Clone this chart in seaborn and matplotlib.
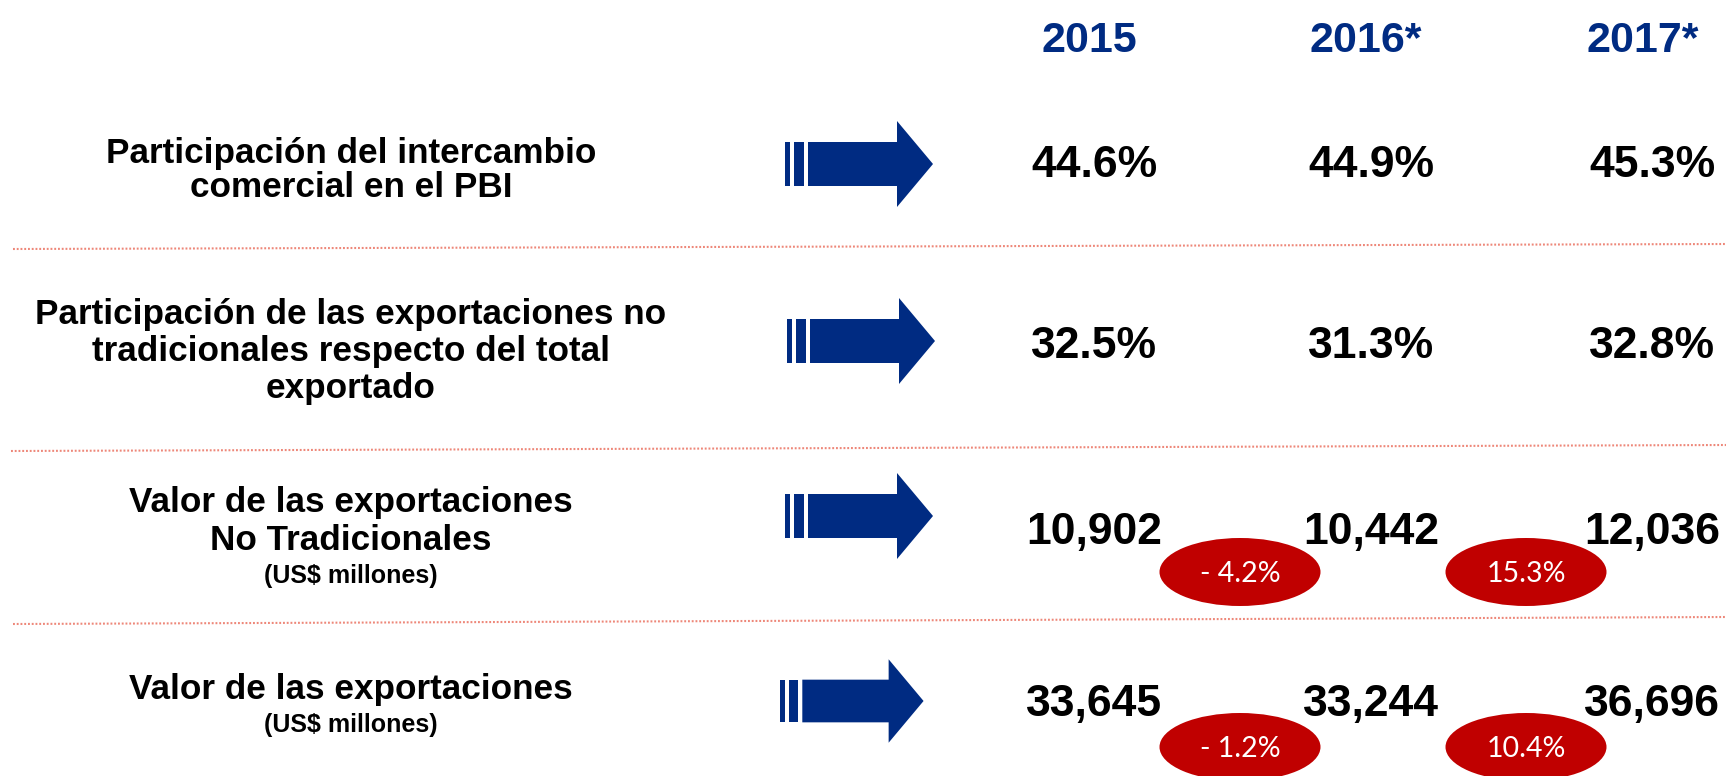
import matplotlib
matplotlib.use("Agg")
import matplotlib.pyplot as plt
import seaborn as sns
from matplotlib.patches import Rectangle, Polygon, Ellipse

# --- data ---
years = ['2015', '2016*', '2017*']
row_labels = [
    ['Participación del intercambio', 'comercial en el PBI'],
    ['Participación de las exportaciones no', 'tradicionales respecto del total', 'exportado'],
    ['Valor de las exportaciones', 'No Tradicionales'],
    ['Valor de las exportaciones'],
]
row_notes = [None, None, '(US$ millones)', '(US$ millones)']
share_trade_gdp = [44.6, 44.9, 45.3]
share_nontrad = [32.5, 31.3, 32.8]
exports_nontrad = [10902, 10442, 12036]
exports_total = [33645, 33244, 36696]
change_nontrad = [-4.2, 15.3]
change_total = [-1.2, 10.4]

NAVY = '#002B82'
RED = '#C00000'
LINE = '#EC7A6A'

sns.set_theme(style='white')
plt.rcParams['font.family'] = ['Liberation Sans', 'DejaVu Sans']

fig, ax = plt.subplots(figsize=(17.26, 7.76), dpi=100)
ax.set_position([0, 0, 1, 1])
ax.set_xlim(0, 1726)
ax.set_ylim(776, 0)
ax.axis('off')

# layout (pixel space)
col_x = [1094, 1371, 1652]
head_x = [1089, 1366, 1643]
label_x = 351
label_base = [[163, 197], [324, 361, 398], [512, 550], [699]]
note_base = [None, None, 583, 732]
value_base = [177, 358, 544, 716]
arrow_pos = [(785, 164), (787, 341), (785, 516), (780, 701)]
oval_x = [1240, 1526]
oval_y = {2: 572, 3: 747}
sep_lines = [(13, 249, 244), (11, 451, 445), (13, 624, 617)]


def fmt_pct(v):
    return f'{v:.1f}%'


def fmt_num(v):
    return f'{v:,}'


def fmt_chg(v):
    return f'- {abs(v):.1f}%' if v < 0 else f'{v:.1f}%'


def draw_arrow(x0, yc, s=1.0):
    ax.add_patch(Rectangle((x0, yc - 22 * s), 5 * s, 44 * s, color=NAVY, lw=0))
    ax.add_patch(Rectangle((x0 + 9 * s, yc - 22 * s), 10 * s, 44 * s, color=NAVY, lw=0))
    ax.add_patch(Polygon([(x0 + 23 * s, yc - 22 * s), (x0 + 112 * s, yc - 22 * s),
                          (x0 + 112 * s, yc - 43 * s), (x0 + 148 * s, yc),
                          (x0 + 112 * s, yc + 43 * s), (x0 + 112 * s, yc + 22 * s),
                          (x0 + 23 * s, yc + 22 * s)], closed=True, color=NAVY, lw=0))


# headers
for x, yr in zip(head_x, years):
    ax.text(x, 52, yr, ha='center', va='baseline', fontsize=31,
            fontweight='bold', color=NAVY)

# row labels
for lines, bases, note, nb in zip(row_labels, label_base, row_notes, note_base):
    for txt, b in zip(lines, bases):
        ax.text(label_x, b, txt, ha='center', va='baseline', fontsize=25.3,
                fontweight='bold', color='black')
    if note:
        ax.text(label_x, nb, note, ha='center', va='baseline', fontsize=18,
                fontweight='bold', color='black')

# arrows
for i, (x0, yc) in enumerate(arrow_pos):
    draw_arrow(x0, yc, 0.97 if i == 3 else 1.0)

# values
rows = [[fmt_pct(v) for v in share_trade_gdp],
        [fmt_pct(v) for v in share_nontrad],
        [fmt_num(v) for v in exports_nontrad],
        [fmt_num(v) for v in exports_total]]
for r, (vals, b) in enumerate(zip(rows, value_base)):
    for x, s in zip(col_x, vals):
        ax.text(x, b, s, ha='center', va='baseline', fontsize=32,
                fontweight='bold', color='black')

# growth ovals
for r, changes in [(2, change_nontrad), (3, change_total)]:
    yc = oval_y[r]
    for x, c in zip(oval_x, changes):
        ax.add_patch(Ellipse((x, yc), 161, 68, color=RED, lw=0))
        ax.text(x, yc + 2, fmt_chg(c), ha='center', va='center', fontsize=20.5,
                color='white', family=['Lato', 'DejaVu Sans'])

# dotted separators
for x0, y0, y1 in sep_lines:
    ax.plot([x0, 1726], [y0, y1], color=LINE, lw=1.5, alpha=0.9,
            linestyle=(0, (0.9, 0.9)), solid_capstyle='butt')

fig.savefig('out.png', dpi=100)
